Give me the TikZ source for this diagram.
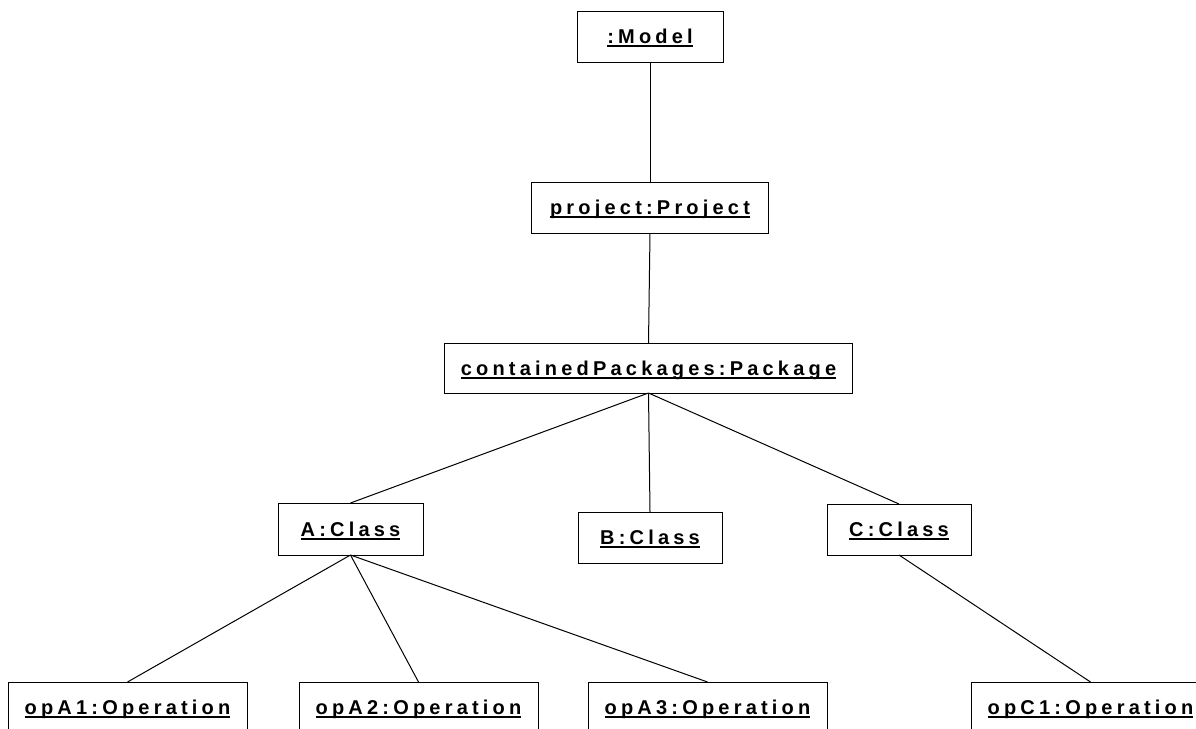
\documentclass[tikz,border=0pt]{standalone}
\usepackage{fontspec}
\setmainfont{Liberation Sans}[LetterSpace=21]
\newcommand{\ulbox}[1]{\sbox0{#1}\rlap{\rule[-3.6pt]{\wd0}{1.7pt}}\usebox0}
\tikzset{
  obj/.style={draw, line width=1pt, inner sep=0pt, outer sep=0pt,
    font=\bfseries\fontsize{20}{22}\selectfont,
    text height=16pt, text depth=2pt, minimum height=51pt},
  link/.style={line width=1pt}
}
\begin{document}
\begin{tikzpicture}[x=1pt,y=-1pt]
\useasboundingbox (0,0) rectangle (1196,728);
\clip (0,0) rectangle (1196,728);
\node[obj, minimum width=146pt] (model) at (650,36.5) {\ulbox{:Model}};
\node[obj, minimum width=237pt] (project) at (650,207.5) {\ulbox{project:Project}};
\node[obj, minimum width=408pt, minimum height=50pt] (package) at (648.5,368) {\ulbox{containedPackages:Package}};
\node[obj, minimum width=145pt, minimum height=52pt] (A) at (350.5,529) {\ulbox{A:Class}};
\node[obj, minimum width=144pt] (B) at (650,537.5) {\ulbox{B:Class}};
\node[obj, minimum width=144pt] (C) at (899,529.5) {\ulbox{C:Class}};
\node[obj, minimum width=239pt] (opA1) at (127.5,707.5) {\ulbox{opA1:Operation}};
\node[obj, minimum width=239pt] (opA2) at (418.5,707.5) {\ulbox{opA2:Operation}};
\node[obj, minimum width=239pt] (opA3) at (707.5,707.5) {\ulbox{opA3:Operation}};
\node[obj, minimum width=239pt] (opC1) at (1090.5,707.5) {\ulbox{opC1:Operation}};
\draw[link] (model.south) -- (project.north);
\draw[link] (project.south) -- (package.north);
\draw[link] (package.south) -- (A.north);
\draw[link] (package.south) -- (B.north);
\draw[link] (package.south) -- (C.north);
\draw[link] (A.south) -- (opA1.north);
\draw[link] (A.south) -- (opA2.north);
\draw[link] (A.south) -- (opA3.north);
\draw[link] (C.south) -- (opC1.north);
\end{tikzpicture}
\end{document}
